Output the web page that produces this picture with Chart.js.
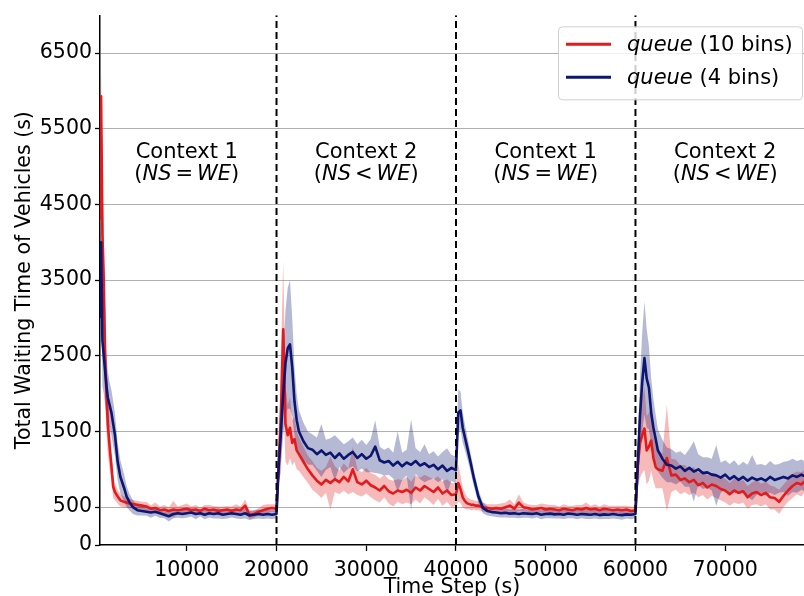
<!DOCTYPE html>
<html>
<head>
<meta charset="utf-8">
<script src="https://cdn.jsdelivr.net/npm/chart.js@4"></script>
<style>
  html, body { margin: 0; padding: 0; background: #fff; }
  canvas { display: block; }
</style>
</head>
<body>
<canvas id="waitChart" width="804" height="596"></canvas>
<script>
'use strict';

// time steps (s)
const steps = [
  300, 450, 600, 750, 900, 1050, 1200, 1400, 1600, 1800, 2000, 2300, 2600, 3000, 3300, 3600, 4000, 4500,
  5000, 5500, 6000, 6500, 7000, 7500, 8000, 8500, 9000, 9500, 10000, 10500, 11000, 11500, 12000, 12500,
  13000, 13500, 14000, 14500, 15000, 15500, 16000, 16500, 17000, 17500, 18000, 18500, 19000, 19500, 20000,
  20250, 20500, 20750, 21000, 21250, 21500, 21750, 22000, 22250, 22500,
  23000, 23500, 24000, 24500, 25000, 25500, 26000, 26500, 27000, 27500, 28000, 28500, 29000, 29500,
  30000, 30500, 31000, 31500, 32000, 32500, 33000, 33500, 34000, 34500, 35000, 35500, 36000, 36500,
  37000, 37500, 38000, 38500, 39000, 39500, 40000,
  40250, 40500, 40750, 41000, 41250, 41500, 41750, 42000, 42250, 42500,
  43000, 43500, 44000, 44500, 45000, 45500, 46000, 46500, 47000, 47500, 48000, 48500, 49000, 49500,
  50000, 50500, 51000, 51500, 52000, 52500, 53000, 53500, 54000, 54500, 55000, 55500, 56000, 56500,
  57000, 57500, 58000, 58500, 59000, 59500, 60000,
  60250, 60500, 60750, 61000, 61250, 61500, 61750, 62000, 62250, 62500,
  63000, 63500, 64000, 64500, 65000, 65500, 66000, 66500, 67000, 67500, 68000, 68500, 69000, 69500,
  70000, 70500, 71000, 71500, 72000, 72500, 73000, 73500, 74000, 74500, 75000, 75500, 76000, 76500,
  77000, 77500, 78000, 78500, 78800
];

// queue (10 bins): mean waiting time
const red10 = [
  4300, 5930, 4100, 3500, 2500, 2000, 1600, 1300, 1050, 770, 700, 640, 590, 570, 560, 550, 540, 530,
  520, 510, 480, 490, 460, 470, 450, 470, 460, 470, 480, 460, 470, 450, 480, 460,
  470, 450, 460, 470, 450, 470, 460, 520, 400, 410, 440, 460, 480, 490, 480,
  1100, 1750, 2850, 1600, 1450, 1550, 1350, 1400, 1250, 1200,
  1100, 1000, 920, 850, 800, 860, 820, 870, 830, 900, 840, 1000, 830, 800,
  850, 790, 760, 720, 780, 710, 680, 720, 700, 730, 690, 760, 720, 780,
  740, 700, 760, 680, 720, 660, 670,
  820, 740, 630, 580, 550, 540, 530, 530, 520, 520,
  500, 490, 480, 490, 480, 500, 520, 480, 560, 500, 490, 470, 480, 490,
  470, 480, 470, 460, 480, 470, 460, 480, 470, 490, 470, 480, 460, 480,
  470, 460, 470, 460, 470, 450, 460,
  1050, 1340, 1450, 1540, 1250, 1300, 1380, 1150, 1030, 1000,
  980, 1150, 920, 930, 860, 880, 830, 860, 790, 820, 760, 800, 780, 740,
  720, 670, 720, 690, 710, 630, 680, 700, 660, 690, 630, 620, 570, 650,
  720, 780, 820, 800, 840
];
const red10Spread = [
  1500, 300, 900, 700, 600, 500, 400, 300, 200, 150, 110, 90, 80, 70, 60, 60, 55, 55,
  50, 60, 45, 70, 50, 60, 45, 110, 50, 60, 70, 50, 60, 45,
  50, 70, 45, 60, 50, 45, 60, 70, 50, 80, 60, 50, 45, 70, 60, 50, 60,
  250, 800, 900, 500, 400, 400, 300, 300, 250, 220,
  200, 180, 190, 170, 180, 170, 350, 170, 160, 180, 170, 300, 170, 160,
  170, 160, 170, 160, 150, 160, 170, 150, 160, 170, 150, 160, 170, 150,
  160, 170, 150, 160, 150, 160, 150,
  250, 180, 130, 100, 80, 70, 70, 60, 60, 60,
  60, 50, 60, 50, 70, 60, 80, 60, 110, 60, 50, 60, 50, 60,
  70, 50, 60, 50, 60, 50, 60, 50, 60, 70, 50, 60, 50, 60,
  50, 60, 50, 60, 50, 60, 50,
  300, 450, 500, 550, 450, 450, 400, 300, 280, 250,
  230, 700, 220, 200, 190, 180, 170, 170, 160, 160, 160, 150, 160, 150,
  160, 150, 160, 150, 150, 150, 150, 160, 150, 150, 160, 150, 160, 150,
  150, 160, 150, 160, 150
];

// queue (4 bins): mean waiting time
const blue4 = [
  3000, 4000, 2700, 2500, 2300, 2100, 1950, 1850, 1750, 1600, 1450, 1100, 900, 760, 640, 570, 500, 460,
  450, 440, 430, 440, 420, 400, 380, 410, 420, 410, 420, 430, 410, 420, 400, 420,
  410, 420, 400, 410, 420, 410, 400, 420, 390, 400, 410, 400, 410, 400, 410,
  1050, 1500, 2000, 2400, 2600, 2650, 2350, 1900, 1650, 1500,
  1370, 1280, 1260, 1200, 1250, 1190, 1220, 1150, 1210, 1140, 1190, 1230, 1150, 1200,
  1140, 1180, 1300, 1120, 1090, 1110, 1050, 1100, 1040, 1090, 1060, 1110, 1050, 1080,
  1030, 1060, 1000, 1050, 980, 1020, 990,
  1750, 1780, 1550, 1420, 1290, 1160, 1020, 880, 760, 640,
  490, 450, 435, 430, 420, 425, 415, 420, 410, 420, 415, 410, 420, 400,
  410, 415, 405, 410, 400, 415, 410, 400, 410, 405, 400, 410, 395, 405,
  400, 410, 400, 395, 405, 400, 410,
  1050, 1700, 2150, 2470, 2200, 2080, 1750, 1550, 1400, 1250,
  1140, 1060, 1050, 1010, 1040, 980, 1020, 970, 1000, 950, 960, 930, 920, 890,
  930, 870, 910, 860, 900, 850, 890, 860, 880, 850, 900, 860, 880, 900,
  880, 920, 900, 930, 910
];
const blue4Spread = [
  800, 400, 600, 500, 450, 400, 350, 300, 300, 300, 280, 250, 220, 180, 140, 110, 90, 70,
  60, 55, 70, 55, 60, 45, 70, 55, 60, 55, 60, 55, 70, 45,
  60, 55, 60, 70, 55, 60, 55, 60, 55, 70, 60, 55, 60, 55, 60, 55, 60,
  250, 400, 550, 700, 800, 850, 650, 450, 350, 280,
  250, 220, 200, 220, 350, 200, 190, 300, 180, 190, 180, 190, 180, 190,
  180, 220, 350, 180, 170, 180, 170, 400, 180, 170, 600, 170, 180, 250,
  170, 180, 170, 180, 300, 170, 180,
  300, 250, 200, 170, 150, 130, 120, 110, 100, 90,
  70, 60, 55, 60, 55, 60, 55, 60, 55, 60, 55, 60, 55, 60,
  55, 60, 55, 60, 55, 60, 55, 60, 55, 60, 55, 60, 55, 60,
  55, 60, 55, 60, 55, 60, 55,
  300, 500, 650, 750, 650, 550, 450, 380, 320, 280,
  250, 230, 220, 210, 200, 210, 250, 400, 200, 210, 200, 210, 400, 200,
  190, 200, 210, 190, 200, 210, 300, 200, 190, 200, 210, 200, 190, 200,
  230, 220, 210, 200, 200
];

const seriesNames = ['queue', 'queue'];
const seriesBins = ['(10 bins)', '(4 bins)'];
const switchSteps = [20000, 40000, 60000];
const contextCenters = [10000, 30000, 50000, 70000];
const contextNames = ['Context 1', 'Context 2', 'Context 1', 'Context 2'];
const contextSigns = ['=', '<', '=', '<'];
const xTicks = [10000, 20000, 30000, 40000, 50000, 60000, 70000];
const yTicks = [0, 500, 1500, 2500, 3500, 4500, 5500, 6500];

const RED = '#e41a1c';
const NAVY = '#0c1670';
const FONT = 'DejaVu Sans';

document.addEventListener('DOMContentLoaded', () => {
  const pts = (vals, spread, sign) =>
    steps.map((t, i) => ({ x: t, y: vals[i] + (spread ? sign * spread[i] : 0) }));

  const band = (vals, spread, color, order) => [
    { data: pts(vals, spread, 1), borderWidth: 0, backgroundColor: color, fill: '+1', order },
    { data: pts(vals, spread, -1), borderWidth: 0, backgroundColor: color, fill: false, order },
  ];

  const switchLines = switchSteps.map((s) => ({
    data: [{ x: s, y: 0 }, { x: s, y: 7000 }],
    borderColor: '#000',
    borderWidth: 2,
    borderDash: [7, 4],
    order: -1,
  }));

  // text drawn on top: context annotations + legend box
  const overlay = {
    id: 'overlay',
    afterDatasetsDraw(chart) {
      const { ctx, scales: { x, y } } = chart;
      ctx.save();
      ctx.fillStyle = '#000';
      ctx.textBaseline = 'alphabetic';
      contextCenters.forEach((c, i) => {
        const cx = x.getPixelForValue(c);
        const by = y.getPixelForValue(5120);
        ctx.font = `21px "${FONT}"`;
        ctx.textAlign = 'center';
        ctx.fillText(contextNames[i], cx, by);
        // (NS = WE) with italic symbols
        const parts = [['(', false], ['NS', true], [contextSigns[i], false], ['WE', true], [')', false]];
        const gap = 4;
        let w = 0;
        parts.forEach(([s, it]) => {
          ctx.font = `${it ? 'italic ' : ''}21px "${FONT}"`;
          w += ctx.measureText(s).width;
        });
        w += gap * 2;
        let px = cx - w / 2;
        ctx.textAlign = 'left';
        parts.forEach(([s, it], k) => {
          ctx.font = `${it ? 'italic ' : ''}21px "${FONT}"`;
          if (k === 2) px += gap;
          ctx.fillText(s, px, by + 22);
          px += ctx.measureText(s).width;
          if (k === 2) px += gap;
        });
      });
      ctx.restore();
    },
    afterDraw(chart) {
      const { ctx, chartArea } = chart;
      const bx = chartArea.right - 246, by = chartArea.top + 11, bw = 245, bh = 73;
      ctx.save();
      ctx.beginPath();
      ctx.roundRect(bx + 0.5, by + 0.5, bw - 1, bh, 4);
      ctx.fillStyle = 'rgba(255,255,255,0.8)';
      ctx.fill();
      ctx.strokeStyle = '#d0d0d0';
      ctx.lineWidth = 1;
      ctx.stroke();
      const colors = [RED, NAVY];
      seriesNames.forEach((name, i) => {
        const ly = by + 18 + i * 33;
        ctx.beginPath();
        ctx.moveTo(bx + 8, ly);
        ctx.lineTo(bx + 53, ly);
        ctx.strokeStyle = colors[i];
        ctx.lineWidth = 3;
        ctx.stroke();
        ctx.fillStyle = '#000';
        ctx.textBaseline = 'alphabetic';
        ctx.font = `italic 21px "${FONT}"`;
        ctx.fillText(name, bx + 69, ly + 7);
        const nw = ctx.measureText(name + ' ').width;
        ctx.font = `21px "${FONT}"`;
        ctx.fillText(seriesBins[i], bx + 69 + nw, ly + 7);
      });
      ctx.restore();
    },
  };

  const ctx = document.getElementById('waitChart').getContext('2d');
  new Chart(ctx, {
    type: 'line',
    data: {
      datasets: [
        { label: seriesNames[1] + ' ' + seriesBins[1], data: pts(blue4), borderColor: NAVY, borderWidth: 2.6, order: 0 },
        { label: seriesNames[0] + ' ' + seriesBins[0], data: pts(red10), borderColor: RED, borderWidth: 2.6, order: 1 },
        ...band(blue4, blue4Spread, 'rgba(12,22,112,0.3)', 2),
        ...band(red10, red10Spread, 'rgba(228,26,28,0.3)', 3),
        ...switchLines,
      ],
    },
    options: {
      responsive: false,
      animation: false,
      layout: { padding: { top: 13, right: 0, left: 0, bottom: 0 } },
      elements: {
        point: { radius: 0, hoverRadius: 0 },
        line: { tension: 0, borderJoinStyle: 'round', fill: false },
      },
      plugins: { legend: { display: false }, tooltip: { enabled: false } },
      scales: {
        x: {
          type: 'linear',
          min: 330,
          max: 78780,
          afterBuildTicks: (s) => { s.ticks = xTicks.map((v) => ({ value: v })); },
          afterFit: (s) => { s.height = 51; },
          ticks: {
            autoSkip: false, maxRotation: 0, padding: 7, color: '#000',
            font: { family: FONT, size: 20.5 },
            callback: (v) => String(v),
          },
          grid: { drawOnChartArea: false, tickLength: 6, tickColor: '#000', tickWidth: 1.3 },
          border: { color: '#000', width: 1.5 },
          title: {
            display: true, text: 'Time Step (s)', color: '#000',
            font: { family: FONT, size: 20.5, lineHeight: 0.85 }, padding: { top: 0, bottom: 0 },
          },
        },
        y: {
          type: 'linear',
          min: 0,
          max: 7000,
          afterBuildTicks: (s) => { s.ticks = yTicks.map((v) => ({ value: v })); },
          afterFit: (s) => { s.width = 100; },
          ticks: {
            padding: 3, color: '#000',
            font: { family: FONT, size: 20.5 },
            callback: (v) => String(v),
          },
          grid: {
            color: (c) => (c.tick && c.tick.value === 0 ? 'rgba(0,0,0,0)' : '#b0b0b0'),
            lineWidth: 1, tickLength: 5, tickColor: '#000', tickWidth: 1.3,
          },
          border: { color: '#000', width: 1.5 },
          title: {
            display: true, text: 'Total Waiting Time of Vehicles (s)', color: '#000',
            font: { family: FONT, size: 20.5 }, padding: { top: 12, bottom: 0 },
          },
        },
      },
    },
    plugins: [overlay],
  });
});
</script>
</body>
</html>
